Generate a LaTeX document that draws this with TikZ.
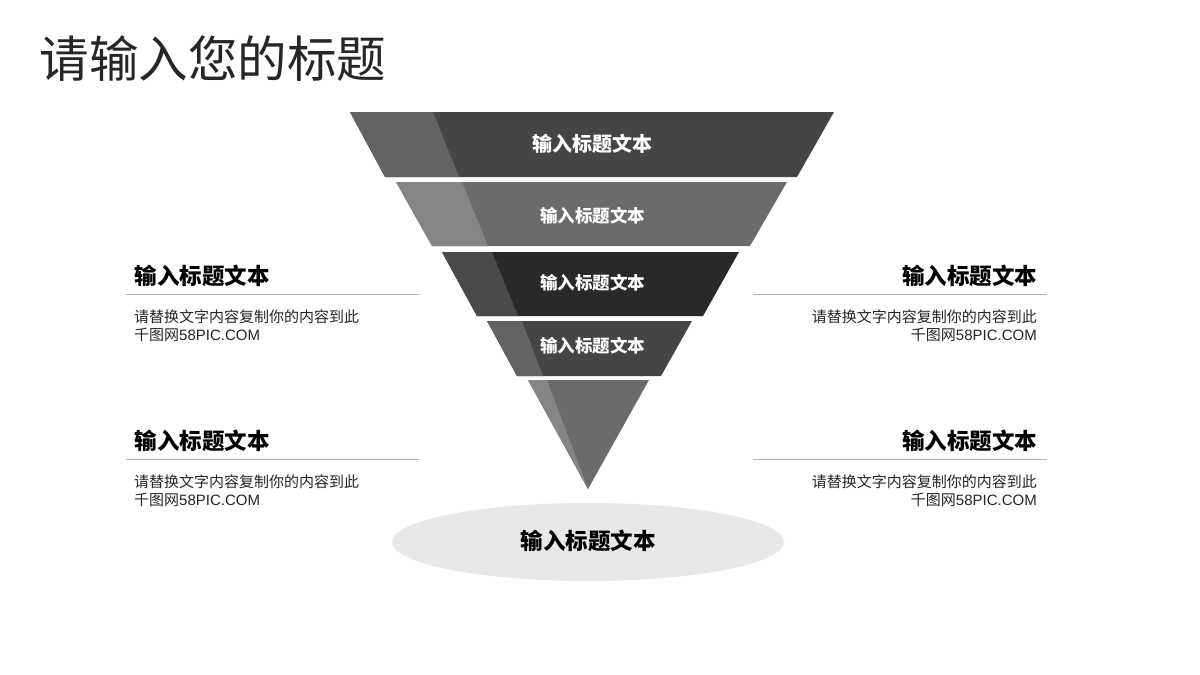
\documentclass[tikz,border=0pt]{standalone}
\usepackage{fontspec}
\usetikzlibrary{shapes.geometric}
\setmainfont{Liberation Sans}
\newfontfamily\cjk{Noto Sans CJK SC}
\tikzset{
  x=1pt,y=-1pt,
  band/.style={draw=none},
  inner/.style={text=white,inner sep=0pt,font=\cjk\bfseries\fontsize{17.5}{17.5}\selectfont},
  innerbig/.style={inner,font=\cjk\bfseries\fontsize{20}{20}\selectfont},
  hd/.style={inner sep=0pt,text=black,font=\cjk\bfseries\fontsize{22.5}{22.5}\selectfont},
  desc/.style={inner sep=0pt,text=black!85,font=\fontsize{15}{19}\selectfont,text depth=0pt},
  rule/.style={draw=black!30,line width=1pt},
}
\newcommand{\descone}{{\cjk 请替换文字内容复制你的内容到此}}
\newcommand{\desctwo}{{\cjk 千图网}58PIC.COM}
\begin{document}
\begin{tikzpicture}
\useasboundingbox (0,0) rectangle (1200,675);
\fill[white] (0,0) rectangle (1200,675);
\node[anchor=west,inner sep=0pt,text=black!85,font=\cjk\fontsize{49.5}{49.5}\selectfont] (title) at (39.5,59) {请输入您的标题};

% funnel
\fill[band,fill=black!73] (350,112) -- (834,112) -- (797,177) -- (385,177) -- cycle;
\fill[band,fill=black!61] (350,112) -- (433,112) -- (459,177) -- (385,177) -- cycle;
\fill[band,fill=black!58] (396,182) -- (787,182) -- (750,246) -- (432,246) -- cycle;
\fill[band,fill=black!48] (396,182) -- (462,182) -- (488,246) -- (432,246) -- cycle;
\fill[band,fill=black!84] (442,252) -- (739,252) -- (703,316) -- (477,316) -- cycle;
\fill[band,fill=black!71] (442,252) -- (492,252) -- (518,316) -- (477,316) -- cycle;
\fill[band,fill=black!73] (487,321) -- (692,321) -- (661,376) -- (517,376) -- cycle;
\fill[band,fill=black!61] (487,321) -- (522,321) -- (543,376) -- (517,376) -- cycle;
\fill[band,fill=black!58] (528,380) -- (649,380) -- (588,489) -- cycle;
\fill[band,fill=black!48] (528,380) -- (547,380) -- (588,489) -- cycle;

\node[innerbig] (t1) at (592,144) {输入标题文本};
\node[inner] (t2) at (592.5,215.5) {输入标题文本};
\node[inner] (t3) at (592.5,283) {输入标题文本};
\node[inner] (t4) at (592.5,346) {输入标题文本};

\node[ellipse,fill=black!9,minimum width=392,minimum height=78,inner sep=0pt] (base) at (588,542) {};
\node[hd] (t5) at (588,540.5) {输入标题文本};

% left
\node[hd,anchor=west] (lh1) at (134.3,275.5) {输入标题文本};
\coordinate (la1) at (125.5,294); \coordinate (lb1) at (419,294);
\draw[rule] (la1) -- (lb1);
\node[desc,anchor=west] (ld1a) at (134,316) {\descone};
\node[desc,anchor=west] (ld1b) at (134,334.5) {\desctwo};
\node[hd,anchor=west] (lh2) at (134.3,440.5) {输入标题文本};
\coordinate (la2) at (125.5,459); \coordinate (lb2) at (419,459);
\draw[rule] (la2) -- (lb2);
\node[desc,anchor=west] (ld2a) at (134,481) {\descone};
\node[desc,anchor=west] (ld2b) at (134,499.5) {\desctwo};

% right
\node[hd,anchor=east] (rh1) at (1037.5,275.5) {输入标题文本};
\coordinate (ra1) at (753,294); \coordinate (rb1) at (1046.5,294);
\draw[rule] (ra1) -- (rb1);
\node[desc,anchor=east] (rd1a) at (1037,316) {\descone};
\node[desc,anchor=east] (rd1b) at (1037,334.5) {\desctwo};
\node[hd,anchor=east] (rh2) at (1037.5,440.5) {输入标题文本};
\coordinate (ra2) at (753,459); \coordinate (rb2) at (1046.5,459);
\draw[rule] (ra2) -- (rb2);
\node[desc,anchor=east] (rd2a) at (1037,481) {\descone};
\node[desc,anchor=east] (rd2b) at (1037,499.5) {\desctwo};
\end{tikzpicture}
\end{document}
